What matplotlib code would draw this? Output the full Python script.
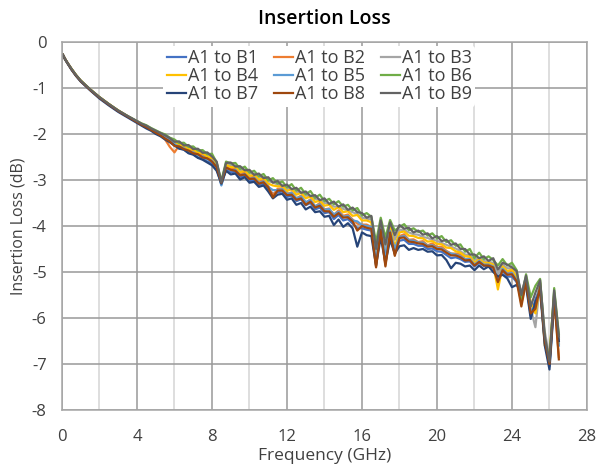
import matplotlib
matplotlib.use("Agg")
import matplotlib.pyplot as plt
from matplotlib.ticker import MultipleLocator

plt.rcParams['font.family'] = ['Open Sans', 'DejaVu Sans']
plt.rcParams['axes.unicode_minus'] = False

freq_ghz = [0.05, 0.15, 0.3, 0.5, 0.75, 1.0, 1.5, 2.0, 2.5, 3.0, 3.5, 4.0,
            4.25, 4.5, 4.75, 5.0, 5.25, 5.5, 5.75,
            6.0, 6.25, 6.5, 6.75, 7.0, 7.25, 7.5, 7.75, 8.0, 8.25, 8.5, 8.75,
            9.0, 9.25, 9.5, 9.75, 10.0, 10.25, 10.5, 10.75, 11.0, 11.25, 11.5, 11.75,
            12.0, 12.25, 12.5, 12.75, 13.0, 13.25, 13.5, 13.75, 14.0, 14.25, 14.5, 14.75,
            15.0, 15.25, 15.5, 15.75, 16.0, 16.25, 16.5, 16.75, 17.0, 17.25, 17.5, 17.75,
            18.0, 18.25, 18.5, 18.75, 19.0, 19.25, 19.5, 19.75, 20.0, 20.25, 20.5, 20.75,
            21.0, 21.25, 21.5, 21.75, 22.0, 22.25, 22.5, 22.75, 23.0, 23.25, 23.5, 23.75,
            24.0, 24.25, 24.5, 24.75, 25.0, 25.25, 25.5, 25.75, 26.0, 26.25, 26.5]

labels = ["A1 to B1", "A1 to B2", "A1 to B3", "A1 to B4", "A1 to B5",
          "A1 to B6", "A1 to B7", "A1 to B8", "A1 to B9"]
colors = ["#4472C4", "#ED7D31", "#A5A5A5", "#FFC000", "#5B9BD5",
          "#70AD47", "#264478", "#9E480E", "#636363"]

b1 = [-0.28, -0.36, -0.46, -0.59, -0.73, -0.85, -1.04, -1.21, -1.36, -1.50, -1.62, -1.74,
      -1.80, -1.86, -1.91, -1.98, -2.02, -2.09, -2.14,
      -2.24, -2.31, -2.34, -2.41, -2.44, -2.51, -2.53, -2.60, -2.63, -2.75, -3.10, -2.76,
      -2.83, -2.82, -2.94, -2.91, -3.03, -3.00, -3.11, -3.08, -3.20, -3.30, -3.27, -3.25,
      -3.37, -3.34, -3.46, -3.42, -3.55, -3.50, -3.64, -3.60, -3.72, -3.70, -3.85, -3.76,
      -3.88, -3.85, -3.95, -4.05, -4.05, -4.08, -4.10, -4.80, -4.13, -4.72, -4.18, -4.55,
      -4.32, -4.30, -4.39, -4.39, -4.43, -4.43, -4.50, -4.49, -4.55, -4.56, -4.63, -4.70,
      -4.68, -4.72, -4.78, -4.77, -4.88, -4.80, -4.87, -4.87, -4.92, -5.15, -4.98, -5.10,
      -5.10, -5.22, -5.50, -5.25, -5.95, -5.60, -5.35, -6.50, -7.05, -5.60, -6.55]
b2 = [-0.28, -0.36, -0.46, -0.58, -0.72, -0.84, -1.03, -1.20, -1.35, -1.49, -1.61, -1.73,
      -1.79, -1.84, -1.90, -1.96, -2.02, -2.12, -2.28,
      -2.40, -2.25, -2.27, -2.35, -2.36, -2.44, -2.45, -2.52, -2.54, -2.70, -3.08, -2.70,
      -2.76, -2.74, -2.88, -2.83, -2.95, -2.93, -3.04, -3.00, -3.13, -3.34, -3.19, -3.18,
      -3.30, -3.27, -3.40, -3.34, -3.50, -3.42, -3.58, -3.50, -3.64, -3.62, -3.76, -3.66,
      -3.78, -3.75, -3.86, -3.95, -3.97, -3.97, -4.02, -4.88, -4.05, -4.85, -4.10, -4.62,
      -4.22, -4.18, -4.30, -4.29, -4.35, -4.33, -4.42, -4.38, -4.46, -4.45, -4.54, -4.60,
      -4.60, -4.62, -4.72, -4.70, -4.84, -4.74, -4.84, -4.82, -4.88, -5.25, -4.92, -5.02,
      -5.00, -5.16, -5.65, -5.18, -5.85, -5.75, -5.28, -6.55, -6.95, -5.50, -6.85]
b3 = [-0.28, -0.36, -0.46, -0.58, -0.72, -0.84, -1.03, -1.20, -1.35, -1.49, -1.61, -1.72,
      -1.78, -1.83, -1.88, -1.94, -1.98, -2.04, -2.09,
      -2.16, -2.22, -2.24, -2.29, -2.32, -2.38, -2.40, -2.45, -2.50, -2.64, -3.06, -2.65,
      -2.68, -2.70, -2.78, -2.78, -2.86, -2.87, -2.94, -2.94, -3.03, -3.05, -3.10, -3.12,
      -3.18, -3.20, -3.26, -3.27, -3.34, -3.35, -3.42, -3.43, -3.50, -3.52, -3.58, -3.58,
      -3.63, -3.66, -3.70, -3.74, -3.82, -3.84, -3.86, -4.60, -3.92, -4.55, -3.97, -4.30,
      -4.08, -4.09, -4.14, -4.18, -4.19, -4.24, -4.26, -4.30, -4.32, -4.37, -4.41, -4.45,
      -4.49, -4.55, -4.62, -4.64, -4.74, -4.70, -4.76, -4.78, -4.80, -5.05, -4.84, -4.92,
      -4.92, -5.06, -5.45, -5.12, -5.80, -6.20, -5.22, -6.30, -6.85, -5.45, -6.45]
b4 = [-0.28, -0.36, -0.46, -0.58, -0.72, -0.84, -1.03, -1.20, -1.35, -1.49, -1.62, -1.73,
      -1.79, -1.84, -1.89, -1.95, -2.00, -2.06, -2.11,
      -2.18, -2.24, -2.26, -2.33, -2.34, -2.41, -2.42, -2.49, -2.52, -2.66, -3.08, -2.67,
      -2.72, -2.72, -2.83, -2.80, -2.91, -2.89, -2.99, -2.96, -3.08, -3.12, -3.14, -3.13,
      -3.24, -3.20, -3.32, -3.28, -3.40, -3.36, -3.48, -3.45, -3.56, -3.54, -3.65, -3.59,
      -3.70, -3.68, -3.78, -3.76, -3.88, -3.88, -3.92, -4.82, -3.97, -4.70, -4.02, -4.45,
      -4.14, -4.12, -4.21, -4.22, -4.26, -4.27, -4.34, -4.33, -4.39, -4.40, -4.47, -4.48,
      -4.55, -4.58, -4.66, -4.66, -4.80, -4.72, -4.80, -4.80, -4.84, -5.38, -4.88, -4.98,
      -4.95, -5.12, -5.70, -5.15, -5.65, -5.90, -5.25, -6.60, -6.80, -5.50, -6.55]
b5 = [-0.28, -0.36, -0.46, -0.59, -0.73, -0.85, -1.04, -1.21, -1.36, -1.50, -1.62, -1.74,
      -1.80, -1.85, -1.90, -1.97, -2.01, -2.08, -2.13,
      -2.22, -2.28, -2.31, -2.38, -2.40, -2.47, -2.49, -2.55, -2.58, -2.72, -3.12, -2.73,
      -2.79, -2.78, -2.90, -2.87, -2.98, -2.95, -3.06, -3.03, -3.15, -3.22, -3.22, -3.20,
      -3.31, -3.28, -3.40, -3.36, -3.48, -3.44, -3.57, -3.53, -3.65, -3.63, -3.75, -3.69,
      -3.80, -3.78, -3.88, -3.90, -3.98, -4.00, -4.02, -4.75, -4.06, -4.65, -4.11, -4.50,
      -4.24, -4.22, -4.31, -4.32, -4.36, -4.36, -4.43, -4.42, -4.48, -4.49, -4.56, -4.60,
      -4.62, -4.66, -4.72, -4.72, -4.84, -4.76, -4.84, -4.84, -4.88, -5.20, -4.93, -5.04,
      -5.02, -5.18, -5.55, -5.20, -5.90, -5.70, -5.30, -6.55, -7.00, -5.55, -6.60]
b6 = [-0.28, -0.36, -0.46, -0.58, -0.72, -0.84, -1.03, -1.20, -1.35, -1.49, -1.61, -1.72,
      -1.77, -1.81, -1.87, -1.92, -1.97, -2.01, -2.08,
      -2.12, -2.20, -2.19, -2.28, -2.27, -2.36, -2.35, -2.44, -2.43, -2.62, -3.02, -2.60,
      -2.64, -2.63, -2.76, -2.71, -2.84, -2.80, -2.92, -2.87, -3.01, -2.96, -3.08, -3.03,
      -3.16, -3.09, -3.23, -3.17, -3.31, -3.24, -3.39, -3.32, -3.46, -3.41, -3.53, -3.46,
      -3.58, -3.54, -3.66, -3.61, -3.77, -3.72, -3.80, -4.35, -3.82, -4.25, -3.87, -4.10,
      -4.02, -3.96, -4.09, -4.05, -4.13, -4.10, -4.21, -4.16, -4.27, -4.22, -4.35, -4.31,
      -4.43, -4.40, -4.56, -4.50, -4.70, -4.58, -4.72, -4.66, -4.74, -4.86, -4.72, -4.86,
      -4.80, -4.96, -5.60, -5.05, -5.55, -5.30, -5.15, -6.45, -6.90, -5.35, -6.35]
b7 = [-0.28, -0.37, -0.47, -0.60, -0.74, -0.86, -1.05, -1.23, -1.38, -1.52, -1.64, -1.76,
      -1.82, -1.88, -1.93, -2.00, -2.05, -2.12, -2.18,
      -2.25, -2.32, -2.34, -2.42, -2.45, -2.52, -2.56, -2.62, -2.68, -2.80, -3.08, -2.80,
      -2.88, -2.86, -2.99, -2.94, -3.06, -3.04, -3.15, -3.12, -3.25, -3.40, -3.32, -3.30,
      -3.43, -3.40, -3.54, -3.50, -3.64, -3.58, -3.70, -3.68, -3.80, -3.78, -3.98, -3.86,
      -4.02, -3.94, -4.05, -4.45, -4.14, -4.20, -4.22, -4.86, -4.24, -4.80, -4.30, -4.60,
      -4.44, -4.42, -4.52, -4.48, -4.52, -4.50, -4.56, -4.55, -4.64, -4.63, -4.74, -4.92,
      -4.80, -4.82, -4.88, -4.86, -4.96, -4.86, -4.94, -4.88, -5.00, -5.10, -5.06, -5.14,
      -5.33, -5.28, -5.45, -5.30, -6.02, -5.65, -5.40, -6.60, -7.12, -5.65, -6.50]
b8 = [-0.28, -0.36, -0.46, -0.59, -0.73, -0.85, -1.04, -1.21, -1.36, -1.50, -1.62, -1.74,
      -1.80, -1.85, -1.91, -1.97, -2.03, -2.10, -2.16,
      -2.26, -2.27, -2.33, -2.36, -2.42, -2.44, -2.51, -2.53, -2.60, -2.72, -3.06, -2.73,
      -2.78, -2.80, -2.90, -2.88, -2.98, -2.97, -3.08, -3.05, -3.16, -3.38, -3.23, -3.23,
      -3.33, -3.32, -3.43, -3.40, -3.54, -3.47, -3.60, -3.56, -3.68, -3.68, -3.80, -3.72,
      -3.82, -3.81, -3.90, -4.10, -4.00, -4.04, -4.06, -4.90, -4.08, -4.88, -4.14, -4.65,
      -4.26, -4.25, -4.34, -4.35, -4.38, -4.39, -4.45, -4.44, -4.50, -4.51, -4.58, -4.64,
      -4.64, -4.68, -4.75, -4.74, -4.86, -4.78, -4.86, -4.86, -4.90, -5.22, -4.96, -5.06,
      -5.05, -5.20, -5.75, -5.22, -5.90, -5.80, -5.32, -6.50, -7.00, -5.55, -6.90]
b9 = [-0.28, -0.36, -0.46, -0.58, -0.72, -0.84, -1.03, -1.20, -1.35, -1.49, -1.61, -1.72,
      -1.78, -1.82, -1.88, -1.93, -1.98, -2.03, -2.09,
      -2.17, -2.16, -2.25, -2.24, -2.33, -2.32, -2.41, -2.40, -2.49, -2.60, -3.05, -2.63,
      -2.62, -2.71, -2.70, -2.79, -2.78, -2.89, -2.86, -2.96, -2.94, -3.06, -3.02, -3.13,
      -3.10, -3.20, -3.17, -3.28, -3.25, -3.35, -3.33, -3.44, -3.40, -3.52, -3.47, -3.58,
      -3.53, -3.65, -3.60, -3.70, -3.72, -3.82, -3.78, -4.50, -3.88, -4.40, -3.92, -4.20,
      -3.98, -4.06, -4.04, -4.14, -4.10, -4.19, -4.16, -4.27, -4.22, -4.33, -4.30, -4.41,
      -4.38, -4.50, -4.50, -4.62, -4.62, -4.70, -4.66, -4.76, -4.70, -4.95, -4.80, -4.84,
      -4.90, -4.98, -5.50, -5.08, -5.75, -5.45, -5.18, -6.40, -6.95, -5.40, -6.40]

series = [b1, b2, b3, b4, b5, b6, b7, b8, b9]

x_ticks = [0, 4, 8, 12, 16, 20, 24, 28]
y_ticks = [0, -1, -2, -3, -4, -5, -6, -7, -8]

fig = plt.figure(figsize=(6.0, 4.7), dpi=100)
ax = fig.add_axes([0.1033, 0.1277, 0.8750, 0.7830])

ax.set_xlim(0, 28)
ax.set_ylim(-8, 0)
ax.set_xticks(x_ticks)
ax.set_yticks(y_ticks)
ax.xaxis.set_minor_locator(MultipleLocator(2))
ax.grid(which='minor', axis='x', color='#d4d4d4', linewidth=1.1)
ax.grid(which='major', axis='x', color='#999999', linewidth=1.1)
ax.grid(which='major', axis='y', color='#999999', linewidth=1.1)
ax.set_axisbelow(True)
ax.tick_params(which='both', length=0, labelsize=12, colors='#404040')
ax.tick_params(axis='x', pad=14)
ax.tick_params(axis='y', pad=11)
for s in ax.spines.values():
    s.set_color('#a6a6a6')
    s.set_linewidth(1.1)

handles = []
for vals, lab, col in zip(series, labels, colors):
    h, = ax.plot(freq_ghz, vals, color=col, linewidth=1.6, label=lab,
                 solid_joinstyle='round')
    handles.append(h)

ax.set_xlabel('Frequency (GHz)', fontsize=12.5, color='#404040', labelpad=2)
ax.set_ylabel('Insertion Loss (dB)', fontsize=11.5, color='#404040', labelpad=4)
ax.set_title('Insertion Loss', fontsize=14, fontweight='semibold', color='#000000', pad=13)

order = [0, 3, 6, 1, 4, 7, 2, 5, 8]
leg = ax.legend([handles[i] for i in order], [labels[i] for i in order],
                loc='upper center', bbox_to_anchor=(0.49, 0.995), ncol=3, fontsize=13,
                frameon=True, facecolor='white', edgecolor='none', framealpha=1.0,
                handlelength=1.05, handletextpad=0.1, columnspacing=0.9,
                labelspacing=0.0, borderpad=0.2, borderaxespad=0.1)
for t in leg.get_texts():
    t.set_color('#404040')

fig.savefig('out.png', dpi=100)
